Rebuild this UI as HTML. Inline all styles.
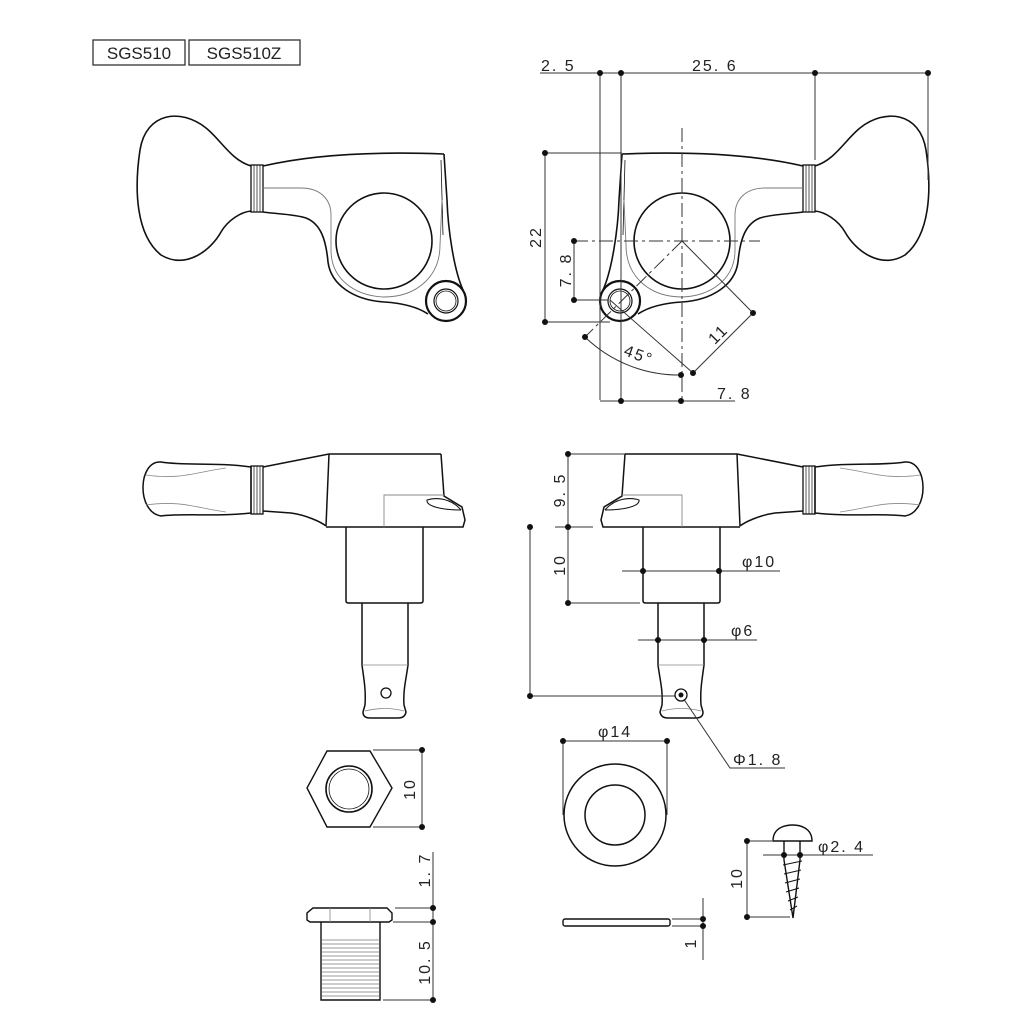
<!DOCTYPE html>
<html><head><meta charset="utf-8"><style>
html,body{margin:0;padding:0;background:#fff;}
svg{display:block;}
text{font-family:"Liberation Sans",sans-serif;fill:#222;}
.d{font-size:16px;letter-spacing:2px;}
</style></head><body>
<svg width="1024" height="1024" viewBox="0 0 1024 1024" xmlns="http://www.w3.org/2000/svg">
<defs>
<g id="topview" fill="none" stroke="#111" stroke-width="1.6">
  <path d="M815,166 C835,160 845,140 860,128 C885,108 920,112 926,150 C932,190 930,235 905,255 C880,270 855,250 845,232 C838,220 825,212 815,211"/>
  <rect x="803" y="165" width="12" height="47" stroke-width="1.3"/>
  <path d="M806,165 V212 M809,165 V212 M812,165 V212" stroke-width="0.7"/>
  <path d="M622,154 C700,151 760,156 803,166"/>
  <path d="M803,212 C790,214 772,214 760,218 C745,224 740,240 738,262 C735,285 712,300 682,302 C665,303 650,306 638,314"/>
  <path d="M603,290 C612,270 618,230 619,200 L622,154"/>
  <path d="M625,160 L623,235" stroke-width="0.8"/>
  <path d="M803,188 L765,188 C745,188 735,200 735,215 L735,250 C735,280 710,296 682,297 C650,297 626,277 626,245 L624,200" stroke="#777" stroke-width="0.9"/>
  <circle cx="682" cy="241" r="48"/>
  <circle cx="620" cy="301" r="20" stroke-width="2.2"/>
  <circle cx="620" cy="301" r="12" stroke-width="1.2"/>
  <circle cx="620" cy="301" r="10" stroke-width="0.8"/>
</g>
<g id="sideview" fill="none" stroke="#111" stroke-width="1.5">
  <path d="M815,467 C850,462 880,466 905,462 C928,460 930,512 905,516 C880,513 850,517 815,513 Z"/>
  <path d="M840,468 C870,472 885,480 920,475 M840,512 C870,508 885,500 920,505" stroke="#888" stroke-width="0.8"/>
  <rect x="803" y="466" width="12" height="48" stroke-width="1.3"/>
  <path d="M806,466 V514 M809,466 V514 M812,466 V514" stroke-width="0.7"/>
  <path d="M625,454 L737,454 L803,467"/>
  <path d="M737,454 L740,526"/>
  <path d="M803,511 L775,513 C760,515 745,522 740,526"/>
  <path d="M625,454 L622,496 L604,507 L601,520 L603,527 L740,527"/>
  <path d="M622,495 L682,495 L682,527" stroke="#888" stroke-width="0.9"/>
  <path d="M605,510 C615,498 630,497 639,500 C640,506 625,510 605,510" stroke-width="1.1"/>
  <path d="M643,527 V601 Q643,603 646,603 H717 Q720,603 720,601 V527"/>
  <path d="M658,603 V665 C660,680 663,690 662,705 L660,712 Q661,718 668,718 H696 Q703,718 703,712 L701,705 C700,690 702,680 704,665 V603"/>
  <path d="M658,665 H704" stroke="#888" stroke-width="0.8"/>
  <path d="M662,711 Q681,706 701,711" stroke="#888" stroke-width="0.8"/>
</g>
</defs>

<rect x="93" y="40" width="92" height="25" fill="none" stroke="#333" stroke-width="1.3"/>
<rect x="189" y="40" width="111" height="25" fill="none" stroke="#333" stroke-width="1.3"/>
<text x="139" y="59" font-size="17" text-anchor="middle">SGS510</text>
<text x="244" y="59" font-size="17" text-anchor="middle">SGS510Z</text>

<use href="#topview"/>
<use href="#topview" transform="translate(1066,0) scale(-1,1)"/>
<use href="#sideview"/>
<use href="#sideview" transform="translate(1066,0) scale(-1,1)"/>
<circle cx="386" cy="693" r="5" fill="none" stroke="#111" stroke-width="1.3"/>

<g stroke="#333" stroke-width="1" fill="none">
  <path d="M540,73 H930"/>
  <path d="M600,73 V400 M621,73 V403 M815,73 V160 M928,73 V180"/>
  <path d="M545,153 V322 M545,153 H622 M545,322 H610"/>
  <path d="M574,241 V300 M574,300 H608"/>
  <path d="M574,241 H760" stroke-dasharray="14,4,3,4"/>
  <path d="M682,128 V403" stroke-dasharray="14,4,3,4"/>
  <path d="M682,241 L585,337" stroke-dasharray="14,4,3,4"/>
  <path d="M682,241 L753,313 M610,300 L693,373 M693,373 L753,313"/>
  <path d="M585,337 A135,135 0 0 0 681,375"/>
  <path d="M600,401 H735"/>
  <path d="M568,454 V603 M568,454 H625 M555,527 H593 M568,603 H640"/>
  <path d="M530,527 V696 M530,696 H675"/>
  <path d="M622,571 H780 M638,640 H757"/>
  <path d="M681,695 L730,768 H785"/>
  <path d="M563,741 H667 M563,741 V815 M667,741 V815"/>
  <path d="M703,898 V960 M672,919 H703 M672,926 H703"/>
  <path d="M747,841 V917 M747,841 H772 M747,917 H790 M763,855 H873"/>
  <path d="M422,750 V827 M373,750 H422 M373,827 H422"/>
  <path d="M433,852 V1002 M395,908 H433 M393,922 H433 M383,1000 H433"/>
</g>
<circle cx="681" cy="695" r="6" fill="#fff" stroke="#111" stroke-width="1.3"/>
<circle cx="681" cy="695" r="2.5" fill="#111"/>

<g fill="#111">
  <circle cx="600" cy="73" r="3"/><circle cx="621" cy="73" r="3"/><circle cx="815" cy="73" r="3"/><circle cx="928" cy="73" r="3"/>
  <circle cx="545" cy="153" r="3"/><circle cx="545" cy="322" r="3"/>
  <circle cx="574" cy="241" r="3"/><circle cx="574" cy="300" r="3"/>
  <circle cx="585" cy="337" r="3"/><circle cx="681" cy="375" r="3"/>
  <circle cx="693" cy="373" r="3"/><circle cx="753" cy="313" r="3"/>
  <circle cx="621" cy="401" r="3"/><circle cx="681" cy="401" r="3"/>
  <circle cx="568" cy="454" r="3"/><circle cx="568" cy="527" r="3"/><circle cx="568" cy="603" r="3"/>
  <circle cx="530" cy="527" r="3"/><circle cx="530" cy="696" r="3"/>
  <circle cx="643" cy="571" r="3"/><circle cx="719" cy="571" r="3"/>
  <circle cx="658" cy="640" r="3"/><circle cx="704" cy="640" r="3"/>
  <circle cx="563" cy="741" r="3"/><circle cx="667" cy="741" r="3"/>
  <circle cx="703" cy="919" r="3"/><circle cx="703" cy="926" r="3"/>
  <circle cx="747" cy="841" r="3"/><circle cx="747" cy="917" r="3"/>
  <circle cx="784" cy="855" r="3"/><circle cx="800" cy="855" r="3"/>
  <circle cx="422" cy="750" r="3"/><circle cx="422" cy="827" r="3"/>
  <circle cx="433" cy="908" r="3"/><circle cx="433" cy="922" r="3"/><circle cx="433" cy="1000" r="3"/>
</g>

<circle cx="615" cy="815" r="51" fill="none" stroke="#111" stroke-width="1.5"/>
<circle cx="615" cy="815" r="30" fill="none" stroke="#111" stroke-width="1.5"/>
<rect x="563" y="919" width="107" height="7" rx="2" fill="none" stroke="#111" stroke-width="1.4"/>

<g fill="none" stroke="#111" stroke-width="1.4">
  <path d="M773,841 C773,826 788,825 793,825 C800,825 812,828 812,841 Z"/>
  <path d="M784,841 V860 L793,918 L800,860 V841"/>
  <path d="M783,865 L802,861 M784,874 L801,870 M785,883 L800,879 M786,892 L799,888 M788,901 L798,897 M790,910 L797,906" stroke-width="1.1"/>
</g>

<g fill="none" stroke="#111" stroke-width="1.4">
  <path d="M327,751 L370,751 L392,788 L370,827 L327,827 L307,788 Z"/>
  <circle cx="349" cy="789" r="23" stroke-width="1.6"/>
  <circle cx="349" cy="789" r="20" stroke-width="0.8"/>
</g>
<g fill="none" stroke="#111" stroke-width="1.4">
  <path d="M313,908 H387 L392,913 V920 L389,922 H310 L307,920 V913 Z"/>
  <path d="M321,922 V1000 H380 V922"/>
  <path d="M330,908 V922 M370,908 V922" stroke="#888" stroke-width="0.8"/>
</g>
<g stroke="#999" stroke-width="0.9">
  <path d="M322,940 H379 M322,944 H379 M322,948 H379 M322,952 H379 M322,956 H379 M322,960 H379 M322,964 H379 M322,968 H379 M322,972 H379 M322,976 H379 M322,980 H379 M322,984 H379 M322,988 H379 M322,992 H379 M322,996 H379"/>
</g>

<g class="d">
  <text x="541" y="71">2. 5</text>
  <text x="692" y="71">25. 6</text>
  <text x="717" y="399">7. 8</text>
  <text x="742" y="567">φ10</text>
  <text x="731" y="636">φ6</text>
  <text x="733" y="765">Φ1. 8</text>
  <text x="598" y="737">φ14</text>
  <text x="818" y="852">φ2. 4</text>
  <text transform="translate(541,237) rotate(-90)" text-anchor="middle">22</text>
  <text transform="translate(571,270) rotate(-90)" text-anchor="middle">7. 8</text>
  <text transform="translate(722,338) rotate(-45)" text-anchor="middle">11</text>
  <text transform="translate(637,360) rotate(20)" text-anchor="middle">45°</text>
  <text transform="translate(565,490) rotate(-90)" text-anchor="middle">9. 5</text>
  <text transform="translate(565,565) rotate(-90)" text-anchor="middle">10</text>
  <text transform="translate(415,789) rotate(-90)" text-anchor="middle">10</text>
  <text transform="translate(430,870) rotate(-90)" text-anchor="middle">1. 7</text>
  <text transform="translate(430,962) rotate(-90)" text-anchor="middle">10. 5</text>
  <text transform="translate(742,878) rotate(-90)" text-anchor="middle">10</text>
  <text transform="translate(696,943) rotate(-90)" text-anchor="middle">1</text>
</g>
</svg>
</body></html>
